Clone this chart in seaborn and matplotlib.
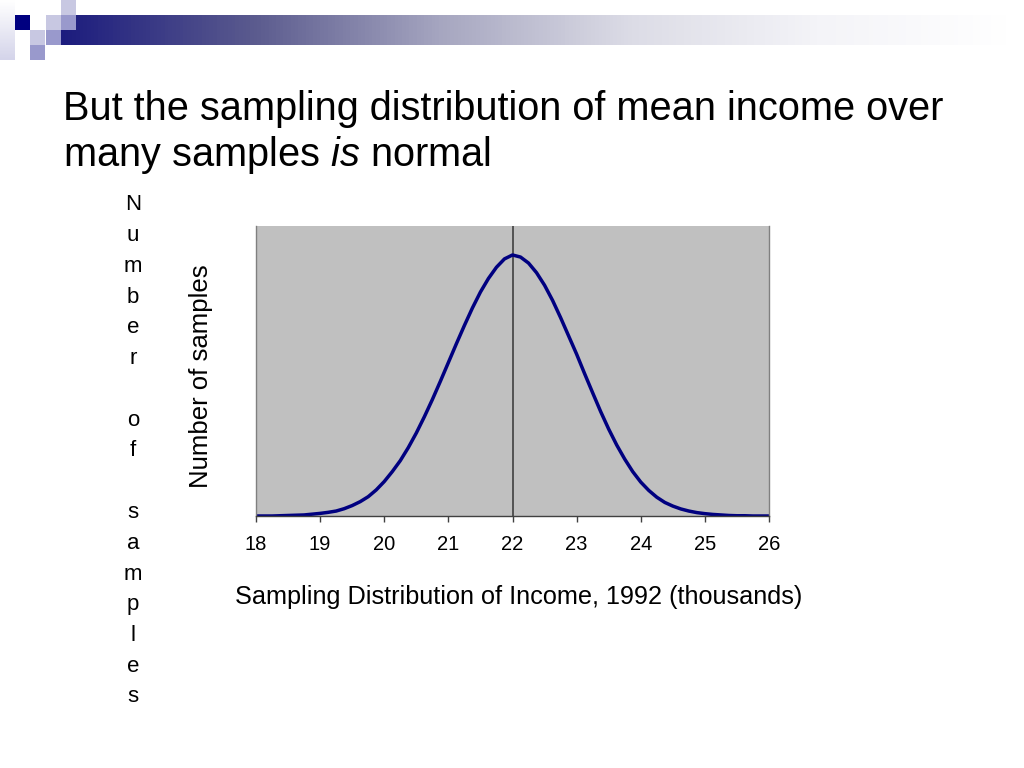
import numpy as np
import matplotlib
matplotlib.use("Agg")
import matplotlib.pyplot as plt
import seaborn as sns
from matplotlib.colors import LinearSegmentedColormap
from matplotlib.patches import Rectangle

# Sampling distribution of mean income (thousands)
income = [18.000, 18.125, 18.250, 18.375, 18.500, 18.625, 18.750, 18.875,
          19.000, 19.125, 19.250, 19.375, 19.500, 19.625, 19.750, 19.875,
          20.000, 20.125, 20.250, 20.375, 20.500, 20.625, 20.750, 20.875,
          21.000, 21.125, 21.250, 21.375, 21.500, 21.625, 21.750, 21.875,
          22.000, 22.125, 22.250, 22.375, 22.500, 22.625, 22.750, 22.875,
          23.000, 23.125, 23.250, 23.375, 23.500, 23.625, 23.750, 23.875,
          24.000, 24.125, 24.250, 24.375, 24.500, 24.625, 24.750, 24.875,
          25.000, 25.125, 25.250, 25.375, 25.500, 25.625, 25.750, 25.875,
          26.000]
samples = [0.000, 0.000, 0.000, 0.001, 0.002, 0.003, 0.004, 0.007,
           0.010, 0.014, 0.019, 0.028, 0.040, 0.055, 0.074, 0.100,
           0.132, 0.170, 0.212, 0.262, 0.318, 0.380, 0.446, 0.516,
           0.588, 0.660, 0.730, 0.797, 0.858, 0.910, 0.953, 0.985,
           1.000, 0.992, 0.969, 0.932, 0.884, 0.826, 0.760, 0.690,
           0.620, 0.545, 0.472, 0.400, 0.333, 0.272, 0.218, 0.170,
           0.130, 0.098, 0.072, 0.052, 0.038, 0.027, 0.019, 0.013,
           0.009, 0.006, 0.004, 0.002, 0.001, 0.001, 0.000, 0.000,
           0.000]
mean_income = 22
x_ticks = [18, 19, 20, 21, 22, 23, 24, 25, 26]

title_line1 = "But the sampling distribution of mean income over"
title_line2 = r"many samples $\mathit{is}$ normal"
side_label = "Number of samples"
y_label = "Number of samples"
x_label = "Sampling Distribution of Income, 1992 (thousands)"

sns.set_theme(style="white")
plt.rcParams["font.family"] = ["Liberation Sans", "DejaVu Sans"]
plt.rcParams["mathtext.fontset"] = "custom"
plt.rcParams["mathtext.rm"] = "Liberation Sans"
plt.rcParams["mathtext.it"] = "Liberation Sans:italic"
plt.rcParams["text.color"] = "black"
plt.rcParams["xtick.color"] = "black"
plt.rcParams["axes.labelcolor"] = "black"

W, H = 1024, 768
fig = plt.figure(figsize=(W / 100, H / 100), dpi=100)
fig.patch.set_facecolor("white")

# slide decoration: gradient bar and little squares
deco = fig.add_axes([0, 0, 1, 1], zorder=0)
deco.set_xlim(0, W)
deco.set_ylim(H, 0)
deco.axis("off")
bar_cmap = LinearSegmentedColormap.from_list(
    "bar", ["#1c1c7e", "#5a5a8e", "#a6a6c0", "#dcdce6", "#f4f4f8", "#ffffff"])
grad = np.linspace(0, 1, 256).reshape(1, -1)
deco.imshow(grad, cmap=bar_cmap, aspect="auto", extent=[61, 1010, 45, 15])
side_cmap = LinearSegmentedColormap.from_list("side", ["#ffffff", "#d4d4ea"])
deco.imshow(np.linspace(0, 1, 64).reshape(-1, 1), cmap=side_cmap, aspect="auto",
            extent=[0, 15, 60, 0])
squares = [
    (15, 15, "#000080"),
    (46, 15, "#c8c8e2"),
    (61, 15, "#9999cc"),
    (61, 0, "#c8c8e2"),
    (30, 30, "#c8c8e2"),
    (46, 30, "#9999cc"),
    (30, 45, "#9999cc"),
]
for sx, sy, c in squares:
    deco.add_patch(Rectangle((sx, sy), 15, 15, color=c, lw=0))

# title
fig.text(63 / W, 1 - 120 / H, title_line1, fontsize=28.6, color="black", va="baseline")
fig.text(63 / W, 1 - 166 / H, title_line2, fontsize=28.6, color="black", va="baseline")

# stacked letters on the left
step = (697 - 205) / (len(side_label) - 1)
for i, ch in enumerate(side_label):
    fig.text(133 / W, 1 - (205 + i * step) / H, ch, fontsize=16,
             ha="center", va="center", color="black")

# chart
ax = fig.add_axes([256 / W, 1 - 516 / H, (769 - 256) / W, (516 - 226) / H], zorder=1)
ax.set_facecolor("#c0c0c0")
sns.lineplot(x=income, y=samples, ax=ax, color="#000080", linewidth=2.5,
             solid_joinstyle="round", solid_capstyle="round")
ax.axvline(mean_income, color="#404040", linewidth=1.2, zorder=1)

ax.set_xlim(18, 26)
ax.set_ylim(0, 1.111)
ax.set_xticks(x_ticks)
ax.set_xticklabels([str(t) for t in x_ticks], fontsize=14.5)
ax.set_yticks([])
ax.tick_params(axis="x", direction="out", length=4, width=1, color="#404040",
               labelcolor="black", bottom=True, pad=10)
for side in ["left", "right"]:
    ax.spines[side].set_color("#808080")
    ax.spines[side].set_linewidth(1)
ax.spines["top"].set_visible(False)
ax.spines["bottom"].set_color("#404040")
ax.spines["bottom"].set_linewidth(1)

ax.set_xlabel(x_label, fontsize=18.2, color="black")
ax.xaxis.set_label_coords((519 - 256) / 513, -(597 - 516) / 290, transform=ax.transAxes)
ax.xaxis.label.set_va("center")
ax.set_ylabel("")
fig.text(201 / W, 1 - 376 / H, y_label, fontsize=18.5, rotation=90,
         ha="center", va="center", color="black")

fig.savefig("out.png", dpi=100)
plt.close(fig)
